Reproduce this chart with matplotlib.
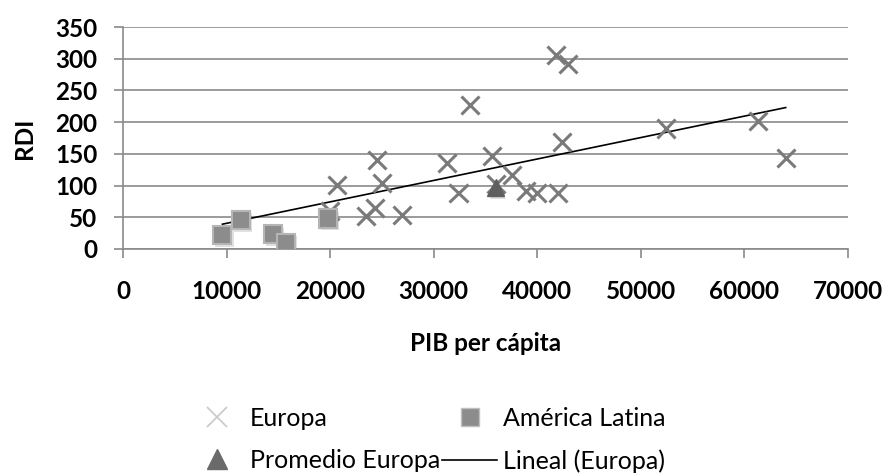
import matplotlib
matplotlib.use("Agg")
import matplotlib.pyplot as plt
import matplotlib.patheffects as pe
from matplotlib.lines import Line2D

# Europa
europa_pib = [20000, 20700, 23500, 24300, 24500, 25000, 26900, 31300, 32400, 33500,
              35600, 36000, 37600, 38900, 40000, 42000, 41800, 43000, 42400, 52400,
              61300, 64000]
europa_rdi = [60, 101, 52, 64, 140, 104, 54, 136, 88, 227,
              147, 103, 117, 92, 88, 88, 306, 291, 169, 190,
              202, 143]

# America Latina
latam_pib = [9600, 11400, 14500, 15700, 19800]
latam_rdi = [22, 46, 23, 10, 48]

# Promedio Europa
prom_pib = [36000]
prom_rdi = [97]

# Lineal (Europa) trend line end points
trend_pib = [9600, 64000]
trend_rdi = [39, 223]

x_ticks = [0, 10000, 20000, 30000, 40000, 50000, 60000, 70000]
y_ticks = [0, 50, 100, 150, 200, 250, 300, 350]

plt.rcParams['font.family'] = ['Lato', 'DejaVu Sans']

fig = plt.figure(figsize=(8.85, 4.75), dpi=100)
ax = fig.add_axes([0.139, 0.476, 0.819, 0.467])

shadow = [pe.SimplePatchShadow(offset=(1.5, -2), alpha=0.25, shadow_rgbFace='#888888'), pe.Normal()]

ax.plot(trend_pib, trend_rdi, color='black', lw=1.2, zorder=3)
ax.plot(europa_pib, europa_rdi, ls='none', marker='x', ms=13, mew=2.2,
        color='#7a7a7a', zorder=4, path_effects=shadow)
ax.plot(latam_pib, latam_rdi, ls='none', marker='s', ms=13, mfc='#8c8c8c',
        mec='#b5b5b5', mew=1.5, zorder=5, path_effects=shadow)
ax.plot(prom_pib, prom_rdi, ls='none', marker='^', ms=12, color='#5f5f5f',
        zorder=6, path_effects=shadow)

ax.set_xlim(0, 70000)
ax.set_ylim(0, 350)
ax.set_xticks(x_ticks)
ax.set_yticks(y_ticks)
ax.grid(axis='y', color='#8a8a8a', lw=1.2)
ax.set_axisbelow(True)
for side in ['top', 'right']:
    ax.spines[side].set_visible(False)
for side in ['left', 'bottom']:
    ax.spines[side].set_color('#8a8a8a')
    ax.spines[side].set_linewidth(1.2)
ax.tick_params(axis='both', colors='#8a8a8a', length=6.5, width=1.2, labelcolor='black',
               labelsize=17.5)
ax.tick_params(axis='x', pad=16)
ax.tick_params(axis='y', pad=12)
for lbl in ax.get_xticklabels() + ax.get_yticklabels():
    lbl.set_fontweight('bold')

ax.set_xlabel('PIB per cápita', fontsize=17.5, fontweight='bold', labelpad=21)
ax.set_ylabel('RDI', fontsize=17.5, fontweight='bold', labelpad=14)

handles = [
    Line2D([], [], ls='none', marker='x', ms=14, mew=1.2, color='#c8c8c8'),
    Line2D([], [], ls='none', marker='^', ms=15, color='#6a6a6a'),
    Line2D([], [], ls='none', marker='s', ms=13, mfc='#8c8c8c', mec='#c0c0c0'),
    Line2D([], [], color='black', lw=1.2),
]
labels = ['Europa', 'Promedio Europa', 'América Latina', 'Lineal (Europa)']
fig.legend(handles, labels, ncol=2, loc='center', bbox_to_anchor=(0.483, 0.074),
           frameon=False, fontsize=18, handlelength=2.2, columnspacing=0.08,
           labelspacing=0.75, handletextpad=0.22)

fig.savefig('out.png', dpi=100)
